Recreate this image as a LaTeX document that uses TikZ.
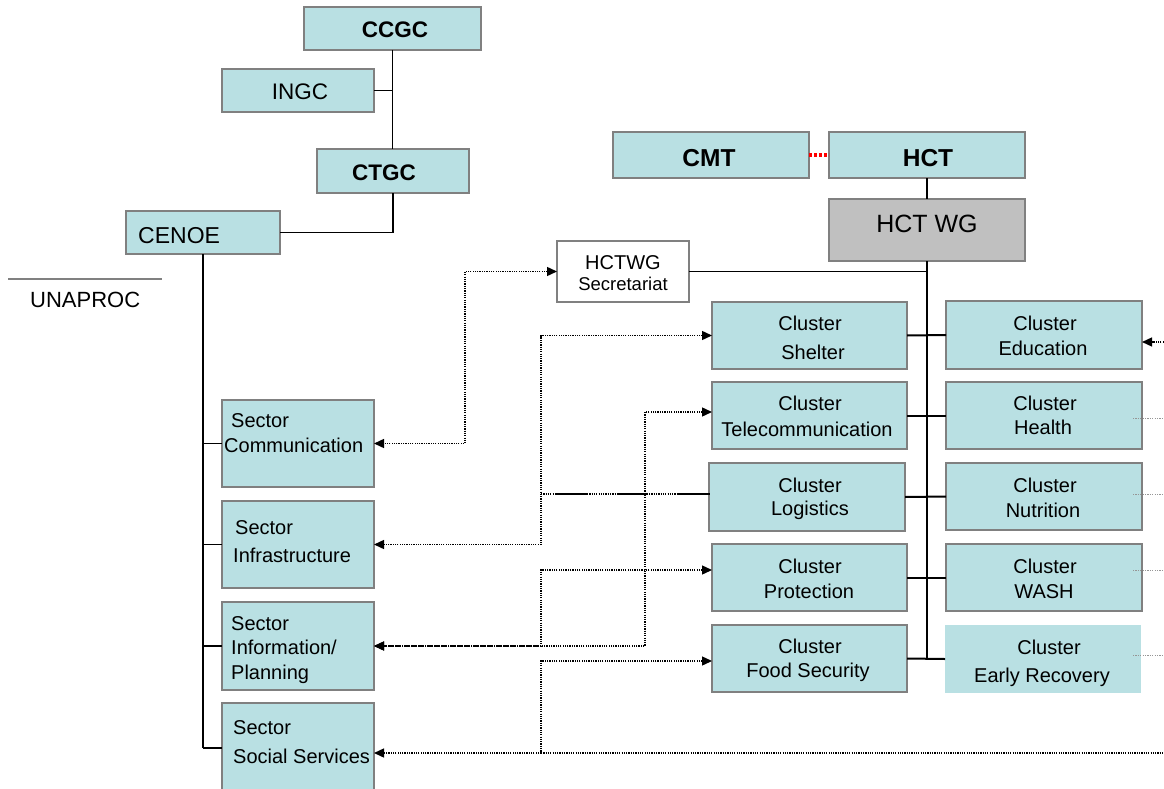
\documentclass[tikz,border=0pt]{standalone}
\usepackage{fontspec}
\setmainfont{Liberation Sans}
\usetikzlibrary{arrows.meta}
\definecolor{boxfill}{RGB}{185,224,227}
\definecolor{boxline}{RGB}{128,128,128}
\definecolor{wggray}{RGB}{192,192,192}
\definecolor{faint}{RGB}{150,150,150}
\begin{document}
\begin{tikzpicture}[x=1pt,y=-1pt,
  box/.style={draw=boxline, line width=2pt, fill=boxfill, inner sep=0pt, outer sep=0pt},
  plainbox/.style={fill=boxfill, inner sep=0pt, outer sep=0pt},
  tx/.style={inner sep=0pt, anchor=base, font=\fontsize{20}{24}\selectfont},
  txl/.style={tx, anchor=base west},
  big/.style={inner sep=0pt, anchor=base, font=\fontsize{22.5}{26}\selectfont},
  bigb/.style={inner sep=0pt, anchor=base, font=\fontsize{22.5}{26}\selectfont\bfseries},
  conn/.style={draw=black, line width=1.6pt},
  dotl/.style={draw=black, line width=1.4pt, dash pattern=on 1.2pt off 1.1pt},
  tip/.style={{Triangle[length=10pt,width=9pt]}-{Triangle[length=10pt,width=9pt]}},
  tipend/.style={-{Triangle[length=10pt,width=9pt]}},
  faintl/.style={draw=faint, line width=1pt, dash pattern=on 1.2pt off 1.2pt}
]
\clip (0,0) rectangle (1164,789);
\fill[white] (0,0) rectangle (1164,789);

% ---------- boxes ----------
\node[box, minimum width=177pt, minimum height=43pt] (ccgc) at (392.5,28.5) {};
\node[box, minimum width=152pt, minimum height=43pt] (ingc) at (298,90.5) {};
\node[box, minimum width=152pt, minimum height=44pt] (ctgc) at (393,171) {};
\node[box, minimum width=154pt, minimum height=43pt] (cenoe) at (203,232.5) {};

\node[box, minimum width=196pt, minimum height=46pt] (cmt) at (711,155) {};
\node[box, minimum width=196pt, minimum height=46pt] (hct) at (927,155) {};
\node[box, fill=wggray, minimum width=196pt, minimum height=62pt] (hctwg) at (927,230) {};
\node[box, fill=white, minimum width=132pt, minimum height=61pt] (sec) at (623,271.5) {};

\node[box, minimum width=195pt, minimum height=67pt] (shelter) at (809.5,335.5) {};
\node[box, minimum width=195pt, minimum height=67pt] (telecom) at (809.5,415.5) {};
\node[box, minimum width=196pt, minimum height=68pt] (logistics) at (807,497) {};
\node[box, minimum width=195pt, minimum height=67pt] (protection) at (809.5,577.5) {};
\node[box, minimum width=195pt, minimum height=67pt] (foodsec) at (809.5,658.5) {};

\node[box, minimum width=196pt, minimum height=68pt] (education) at (1044,335) {};
\node[box, minimum width=196pt, minimum height=67pt] (health) at (1044,415.5) {};
\node[box, minimum width=196pt, minimum height=67pt] (nutrition) at (1044,496.5) {};
\node[box, minimum width=196pt, minimum height=67pt] (wash) at (1044,577.5) {};
\node[plainbox, minimum width=196pt, minimum height=68pt] (early) at (1043,659) {};

\node[box, minimum width=152pt, minimum height=87pt] (comm) at (298,443.5) {};
\node[box, minimum width=152pt, minimum height=87pt] (infra) at (298,544.5) {};
\node[box, minimum width=152pt, minimum height=88pt] (info) at (298,646) {};
\node[box, minimum width=152pt, minimum height=90pt] (social) at (298,748) {};

% ---------- texts ----------
\node[bigb] (tccgc) at (395,38) {CCGC};
\node[big] (tingc) at (300,100) {INGC};
\node[bigb] (tctgc) at (384,180) {CTGC};
\node[big, anchor=base west, font=\fontsize{23}{26}\selectfont] (tcenoe) at (138,243) {CENOE};
\node[big, anchor=base west, font=\fontsize{22}{26}\selectfont] (tunaproc) at (30,307) {UNAPROC};
\node[bigb, font=\fontsize{24.5}{28}\selectfont\bfseries] (tcmt) at (709,166) {CMT};
\node[bigb, font=\fontsize{24.5}{28}\selectfont\bfseries] (thct) at (928,166) {HCT};
\node[big, font=\fontsize{25}{28}\selectfont] (thctwg) at (927,232) {HCT WG};
\node[tx] (tsec1) at (623,269) {HCTWG};
\node[tx, font=\fontsize{18.5}{22}\selectfont] (tsec2) at (623,290) {Secretariat};

\node[tx] (ts1) at (810,330) {Cluster};
\node[tx] (ts2) at (813,359) {Shelter};
\node[tx] (tt1) at (810,410) {Cluster};
\node[tx] (tt2) at (807,436) {Telecommunication};
\node[tx] (tl1) at (810,492) {Cluster};
\node[tx] (tl2) at (810,515) {Logistics};
\node[tx] (tp1) at (810,573) {Cluster};
\node[tx] (tp2) at (809,598) {Protection};
\node[tx] (tf1) at (810,653) {Cluster};
\node[tx] (tf2) at (808,677) {Food Security};

\node[tx] (te1) at (1045,330) {Cluster};
\node[tx] (te2) at (1043,355) {Education};
\node[tx] (th1) at (1045,410) {Cluster};
\node[tx] (th2) at (1043,434) {Health};
\node[tx] (tn1) at (1045,492) {Cluster};
\node[tx] (tn2) at (1043,517) {Nutrition};
\node[tx] (tw1) at (1045,573) {Cluster};
\node[tx] (tw2) at (1044,598) {WASH};
\node[tx] (tr1) at (1049,654) {Cluster};
\node[tx] (tr2) at (1042,682) {Early Recovery};

\node[txl] (tc1) at (231,427) {Sector};
\node[txl] (tc2) at (224,452) {Communication};
\node[txl] (ti1) at (235,534) {Sector};
\node[txl] (ti2) at (233,562) {Infrastructure};
\node[txl] (tp1s) at (231,630) {Sector};
\node[txl] (tp2s) at (231,654) {Information/};
\node[txl] (tp3s) at (231,679) {Planning};
\node[txl] (tso1) at (233,734) {Sector};
\node[txl] (tso2) at (233,763) {Social Services};

% ---------- solid connectors ----------
\draw[conn] (ccgc.south) -- (ccgc.south |- ctgc.north);
\draw[conn] (ingc.east) -- (ingc.east -| ccgc.south);
\draw[conn] (ctgc.south) |- (cenoe.east);
\draw[conn, line width=2pt] (cenoe.south) -- (cenoe.south |- social.west);
\draw[conn] (cenoe.south |- comm.west) -- (comm.west);
\draw[conn] (cenoe.south |- infra.west) -- (infra.west);
\draw[conn] (cenoe.south |- info.west) -- (info.west);
\draw[conn] (cenoe.south |- social.west) -- (social.west);
\draw[draw=boxline, line width=1.5pt] (8,279) coordinate (ul1) -- (162,279) coordinate (ul2);

\draw[red, line width=3.5pt, dash pattern=on 3pt off 2pt] (cmt.east) -- (hct.west);
\draw[conn] (hct.south) -- (hctwg.north);
\draw[conn, line width=2pt] (hctwg.south) -- (hctwg.south |- early.west);
\draw[conn] (sec.east) -- (sec.east -| hctwg.south);
\draw[conn, line width=2pt] (shelter.east) -- (education.west);
\draw[conn, line width=2pt] (telecom.east) -- (health.west);
\draw[conn, line width=2pt] (logistics.east) -- (nutrition.west);
\draw[conn, line width=2pt] (protection.east) -- (wash.west);
\draw[conn, line width=2pt] (foodsec.east) -- (early.west);

% ---------- dotted connectors ----------
\coordinate (c0) at (465,0);
\coordinate (c1) at (541,0);
\coordinate (c2) at (645,0);
\coordinate (telIn) at ([yshift=3.5pt]telecom.west);
\coordinate (proIn) at ([yshift=7.5pt]protection.west);
\coordinate (fooIn) at ([yshift=-2.5pt]foodsec.west);
\coordinate (socIn) at ([yshift=-5pt]social.east);
\coordinate (lgIn) at ([yshift=3pt]logistics.west);

\draw[dotl, tip] (sec.west) -| (c0 |- comm.east) -- (comm.east);
\draw[dotl, tip] (shelter.west) -| (c1 |- infra.east) -- (infra.east);
\draw[dotl, tip] (telIn) -| (c2 |- info.east) -- (info.east);
\draw[dotl, tip] (proIn) -| (c1 |- info.east) -- (info.east);
\draw[dotl, tip] (fooIn) -| (c1 |- socIn) -- (socIn);
\coordinate (rS) at (1166,753);
\draw[dotl] (c1 |- socIn) -- (rS);

\draw[dotl] (c1 |- lgIn) -- (lgIn);
\draw[draw=black, line width=2pt, dash pattern=on 0pt off 14pt on 33pt off 29pt on 30pt off 30pt on 33pt off 0pt] (c1 |- lgIn) -- (lgIn);

% ---------- right edge ----------
\coordinate (rE) at (1166,342);
\coordinate (eduIn) at ([yshift=-7pt]education.east);
\draw[dotl, tipend] (rE) -- (eduIn);
\coordinate (rH) at (1166,418);
\coordinate (rN) at (1166,494);
\coordinate (rW) at (1166,570);
\coordinate (rR) at (1166,655);
\draw[faintl] ([xshift=-9pt,yshift=-2.5pt]health.east) -- (rH);
\draw[faintl] ([xshift=-9pt,yshift=2.5pt]nutrition.east) -- (rN);
\draw[faintl] ([xshift=-9pt,yshift=7.5pt]wash.east) -- (rW);
\draw[faintl] ([xshift=-8pt,yshift=4pt]early.east) -- (rR);
\end{tikzpicture}
\end{document}
